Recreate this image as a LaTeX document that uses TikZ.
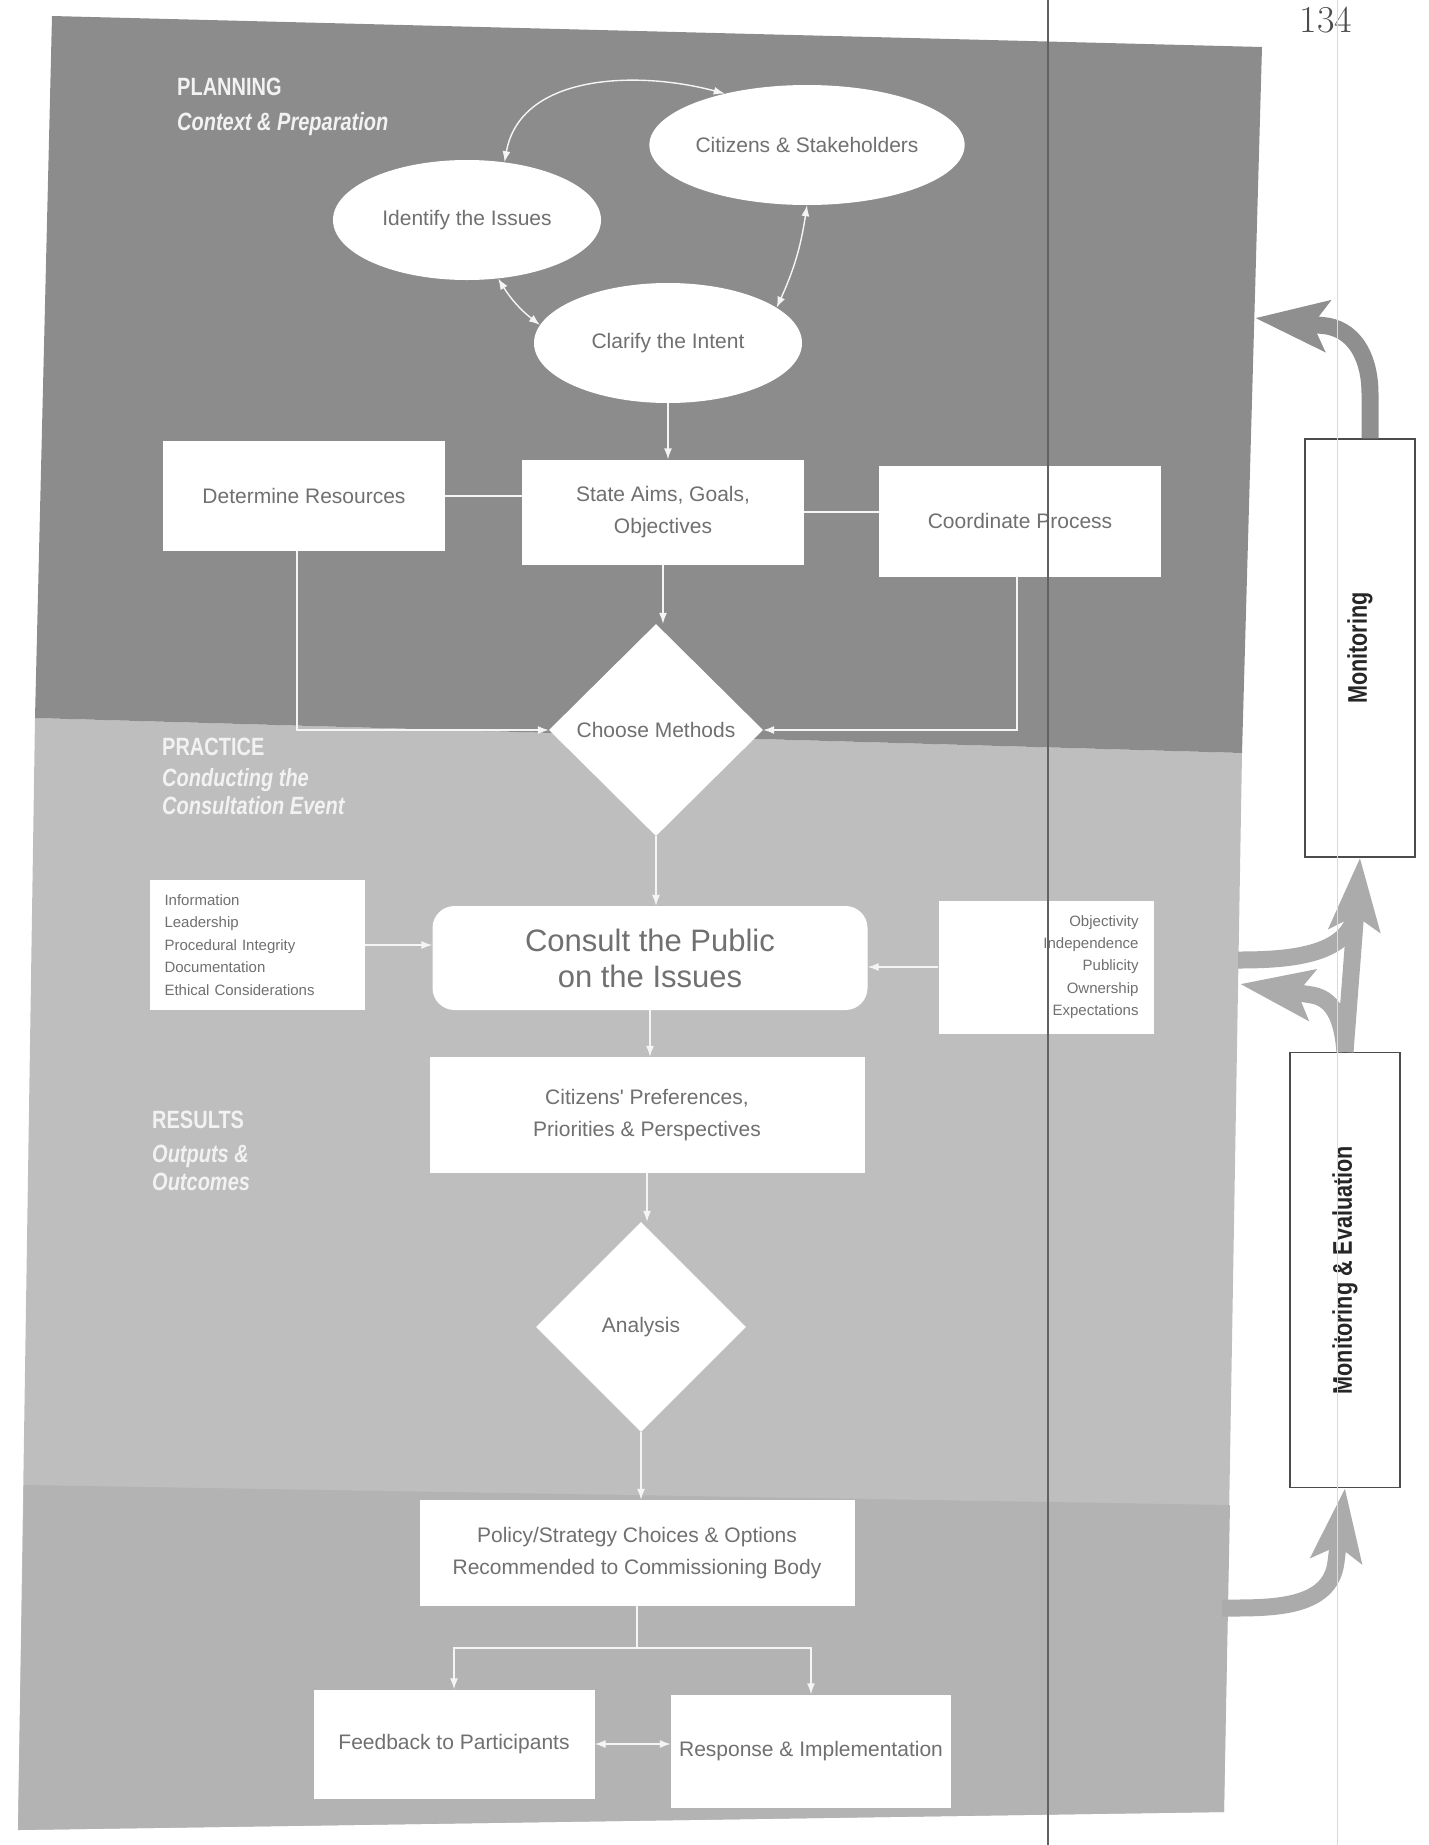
\documentclass[tikz,border=0pt]{standalone}
\usepackage{fontspec}
\usepackage{graphicx}
\usetikzlibrary{shapes.geometric,arrows.meta}
\newfontfamily\boxfont{Liberation Sans}
\newfontfamily\headfont[FakeStretch=0.8]{Liberation Sans}
\definecolor{panelA}{HTML}{8C8C8C}
\definecolor{panelB}{HTML}{BEBEBE}
\definecolor{panelC}{HTML}{B3B3B3}
\definecolor{boxtext}{HTML}{707070}
\definecolor{bigA}{HTML}{8F8F8F}
\definecolor{bigB}{HTML}{ABABAB}
\begin{document}
\begin{tikzpicture}[x=1pt,y=1pt,
  txt/.style={font=\boxfont\fontsize{21}{32}\selectfont, text=boxtext, align=center},
  bubble/.style={txt, ellipse, fill=white, inner sep=0pt, minimum width=268pt, minimum height=120pt},
  panelbox/.style={txt, rectangle, fill=white, minimum width=282pt, minimum height=108pt},
  widebox/.style={txt, rectangle, fill=white, minimum width=435pt, minimum height=108pt},
  choice/.style={txt, diamond, fill=white, inner sep=0pt, minimum width=214pt, minimum height=212pt},
  listbox/.style={rectangle, fill=white, text=boxtext, font=\boxfont\fontsize{15}{22.4}\selectfont, text width=185pt, inner xsep=15pt, minimum height=130pt},
  monbox/.style={rectangle, fill=white, draw=black!70, line width=1.2pt, minimum width=110pt, font=\headfont\bfseries\fontsize{27}{30}\selectfont, text=black!85},
  head/.style={anchor=base west, inner sep=0pt, font=\headfont\bfseries\fontsize{25}{30}\selectfont, text=white!95!black},
  sub/.style={head, font=\headfont\bfseries\itshape\fontsize{25}{30}\selectfont},
  link/.style={draw=white!96!black, line width=1.4pt},
  arr/.style={link, -{Latex[length=11pt,width=8pt]}},
  both/.style={link, {Latex[length=11pt,width=8pt]}-{Latex[length=11pt,width=8pt]}},
  bigline/.style={draw=bigB, line width=17pt},
  bigarr/.style={bigline, -{Stealth[length=72pt,width=50pt,inset=14pt]}}]
\useasboundingbox (0,0) rectangle (1429,-1845);
\fill[panelB] (35,-718) -- (1242,-753) -- (1224,-1812) -- (18,-1830) -- cycle;
\fill[panelC] (24,-1485) -- (1230,-1505) -- (1224,-1812) -- (18,-1830) -- cycle;
\fill[panelA] (52,-16) -- (1262,-47) -- (1242,-753) -- (35,-718) -- cycle;
\node[anchor=base, text=black!70, font=\fontsize{38}{38}\selectfont] (page) at (1326,-32) {134};
\node[head] (plan) at (177,-95) {PLANNING};
\node[sub] (plansub) at (177,-130) {Context \& Preparation};
\node[head] (prac) at (162,-755) {PRACTICE};
\node[sub] (pracsub) at (162,-786) {Conducting the};
\node[sub] (pracsubb) at (162,-814) {Consultation Event};
\node[head] (res) at (152,-1128) {RESULTS};
\node[sub] (ressub) at (152,-1162) {Outputs \&};
\node[sub] (ressubb) at (152,-1190) {Outcomes};
\node[bubble] (cit) at (807,-145) {Citizens \& Stakeholders};
\node[bubble] (iss) at (467,-220) {Identify the Issues};
\node[bubble] (cla) at (668,-343) {Clarify the Intent};
\node[panelbox, minimum height=110pt] (rsc) at (304,-496) {Determine Resources};
\node[panelbox, minimum height=105pt] (aims) at (663,-512) {State Aims, Goals,\\Objectives};
\node[panelbox, minimum height=111pt] (coord) at (1020,-521) {Coordinate Process};
\node[choice] (meth) at (656,-730) {Choose Methods};
\node[listbox, align=left] (lst) at (257,-945) {Information\\Leadership\\Procedural Integrity\\Documentation\\Ethical Considerations};
\node[txt, rectangle, rounded corners=22pt, fill=white, minimum width=435pt, minimum height=104pt, font=\boxfont\fontsize{31}{36}\selectfont] (pub) at (650,-958) {Consult the Public\\on the Issues};
\node[listbox, align=right, minimum height=133pt] (rst) at (1046,-967) {Objectivity\\Independence\\Publicity\\Ownership\\Expectations};
\node[widebox, minimum height=116pt] (pref) at (647,-1115) {Citizens' Preferences,\\Priorities \& Perspectives};
\node[choice, minimum width=210pt, minimum height=210pt] (ana) at (641,-1327) {Analysis};
\node[widebox, minimum height=106pt] (pol) at (637,-1553) {Policy/Strategy Choices \& Options\\Recommended to Commissioning Body};
\node[panelbox, minimum width=281pt, minimum height=109pt] (fb) at (454,-1744) {Feedback to Participants};
\node[panelbox, minimum width=280pt, minimum height=113pt] (resp) at (811,-1751) {Response \& Implementation};
\node[monbox, minimum height=418pt] (mon) at (1360,-648) {\rotatebox{90}{Monitoring}};
\node[monbox, minimum height=435pt] (mae) at (1345,-1270) {\rotatebox{90}{Monitoring \& Evaluation}};
\draw[both] (iss.57) to[out=80,in=165] (cit.148);
\draw[both] (cit.south) to[bend left=8] (cla.18);
\draw[both] (iss.-62) to[bend right=10] (cla.172);
\draw[arr] (cla.south) -- (cla.south |- aims.north);
\draw[link] (rsc.east) -- (rsc.east -| aims.west);
\draw[link] (aims.east) -- (aims.east -| coord.west);
\draw[arr] (aims.south) -- (aims.south |- meth.north);
\draw[arr] ([xshift=-7pt]rsc.south) |- (meth.west);
\draw[arr] ([xshift=-3pt]coord.south) |- (meth.east);
\draw[arr] (meth.south) -- (meth.south |- pub.north);
\draw[arr] (lst.east) -- (lst.east -| pub.west);
\draw[arr] (rst.west) -- (rst.west -| pub.east);
\draw[arr] (pub.south) -- (pub.south |- pref.north);
\draw[arr] (pref.south) -- (pref.south |- ana.north);
\draw[arr] (ana.south) -- (ana.south |- pol.north);
\coordinate (split) at (637,-1648);
\draw[link] (pol.south) -- (split);
\draw[arr] (split) -| (fb.north);
\draw[arr] (split) -| (resp.north);
\draw[both] (fb.east) -- (fb.east -| resp.west);
\coordinate (baseA) at (1327,-326);
\coordinate (tipA) at (1255,-318);
\coordinate (edgeA) at (1238,-960);
\coordinate (merge) at (1356,-905);
\coordinate (baseB) at (1312,-995);
\coordinate (tipB) at (1240,-984);
\coordinate (edgeB) at (1222,-1608);
\coordinate (baseC) at (1336,-1562);
\draw[bigarr, draw=bigA] ([xshift=10pt]mon.north) -- ++(0,45) to[out=90,in=-10] (baseA) -- (tipA);
\draw[bigline] (edgeA) to[out=0,in=-90] (merge);
\draw[bigarr] (mae.north) -- (mon.south);
\draw[bigarr] (mae.north) to[out=95,in=-10] (baseB) -- (tipB);
\draw[bigarr] (edgeB) to[out=0,in=-97] (baseC) -- (mae.south);
\draw[black!62, line width=1.3pt] (1048,0) -- (1048,-1845);
\draw[black!15, line width=1pt] (1337,0) -- (1337,-1845);
\end{tikzpicture}
\end{document}
